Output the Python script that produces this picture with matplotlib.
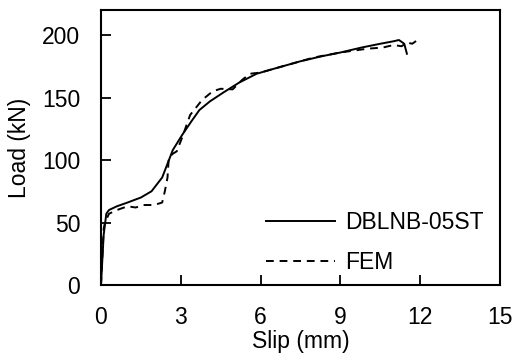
import matplotlib.pyplot as plt

# test curve (solid)
test_slip = [0, 0.1, 0.2, 0.3, 0.6, 1.0, 1.5, 1.9, 2.3, 2.7, 3.05, 3.4, 3.7, 4.1, 4.6, 5.2, 5.85, 6.5, 7.5, 8.3, 9.0, 9.8, 10.5, 11.0, 11.2, 11.4, 11.5]
test_load = [0, 40, 57, 60, 63, 66, 70, 75, 86, 108, 120, 131, 140, 147, 154, 162, 169, 173, 179, 183, 186, 190, 193, 195, 196, 193, 185]

# FEM curve (dashed)
fem_slip = [0, 0.1, 0.15, 0.3, 0.6, 1.0, 1.3, 1.6, 2.0, 2.3, 2.4, 2.5, 2.55, 2.7, 2.85, 3.05, 3.35, 3.8, 4.2, 4.5, 4.95, 5.3, 5.6, 6.0, 7.0, 8.0, 9.0, 10.0, 10.6, 11.0, 11.3, 11.5, 11.7, 11.9]
fem_load = [0, 45, 50, 57, 60, 63, 62, 64, 64, 66, 75, 86, 102, 105, 107, 118, 136, 148, 155, 157, 156.5, 164, 169, 170, 176, 182, 186, 189, 190, 192, 191, 194, 193, 196]

plt.rcParams['font.family'] = ['Liberation Sans', 'DejaVu Sans']
plt.rcParams['font.size'] = 16.5

fig = plt.figure(figsize=(5.19, 3.56), dpi=100)
ax = fig.add_axes([0.1946, 0.1994, 0.7688, 0.7725])

ax.plot(test_slip, test_load, color='black', linewidth=1.4, label='DBLNB-05ST')
ax.plot(fem_slip, fem_load, color='black', linewidth=1.4, linestyle=(0, (4, 3)), label='FEM')

ax.set_xlim(0, 15)
ax.set_ylim(0, 220)
ax.set_xticks([0, 3, 6, 9, 12, 15])
ax.set_yticks([0, 50, 100, 150, 200])
ax.tick_params(direction='in', length=7, width=1.3, pad=15)
for s in ax.spines.values():
    s.set_linewidth(1.5)

ax.set_xlabel('Slip (mm)', labelpad=1)
ax.set_ylabel('Load (kN)', labelpad=8)

ax.legend(loc='lower right', frameon=False, handlelength=3.0, handletextpad=0.45,
          labelspacing=0.75, bbox_to_anchor=(1.01, -0.035))

fig.savefig('out.png', dpi=100)
